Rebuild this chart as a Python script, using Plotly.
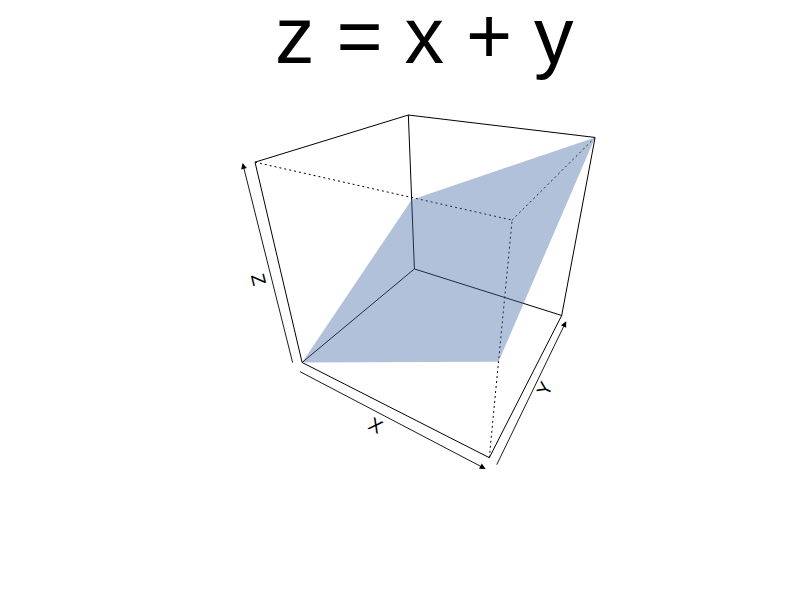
import numpy as np
import plotly.graph_objects as go

# ---- data ----
title_text = "z = x + y"
x_vals = [0.0, 1.0]
y_vals = [0.0, 1.0]
z_vals = [[0.0, 1.0],
          [1.0, 2.0]]          # z_vals[i][j] is z at (x_vals[i], y_vals[j])
axis_labels = ["X", "Y", "Z"]

# ---- view (persp-like camera) ----
THETA, PHI, DIST = 30.0, 30.0, 3.78
SCALE, CX, CY, PAGE_OFF = 107.0, 441.5, 255.4, 8
TICK_OFF, LABEL_OFF = 0.06, 0.135
FILL = "rgba(70,108,168,0.42)"
FONT = "Liberation Sans, Arial, Helvetica, sans-serif"

xlim = (min(x_vals), max(x_vals))
ylim = (min(y_vals), max(y_vals))
zflat = [v for row in z_vals for v in row]
zlim = (min(zflat), max(zflat))


def norm(v, lim):
    return 2.0 * (v - lim[0]) / (lim[1] - lim[0]) - 1.0


th, ph = np.radians(THETA), np.radians(PHI)


def proj_n(X, Y, Z):
    """normalized box coords ([-1,1]^3) -> 2D plane coords"""
    sx = X * np.cos(th) + Y * np.sin(th)
    t = X * np.sin(th) - Y * np.cos(th)
    sy = Z * np.cos(ph) - t * np.sin(ph)
    dz = Z * np.sin(ph) + t * np.cos(ph)
    w = 1.0 - dz / DIST
    return sx / w, sy / w, dz


def proj(x, y, z):
    return proj_n(norm(x, xlim), norm(y, ylim), norm(z, zlim))


fig = go.Figure()

# ---- box ----
corners = [(i, j, k) for i in (-1, 1) for j in (-1, 1) for k in (-1, 1)]
nearest = max(corners, key=lambda c: proj_n(*c)[2])
edges = []
for a in corners:
    for b in corners:
        if a < b and sum(p != q for p, q in zip(a, b)) == 1:
            edges.append((a, b))
for a, b in edges:
    u1, v1, _ = proj_n(*a)
    u2, v2, _ = proj_n(*b)
    dotted = nearest in (a, b)
    fig.add_trace(go.Scatter(
        x=[u1, u2], y=[v1, v2], mode="lines", hoverinfo="skip",
        line=dict(color="black", width=1, dash="2px,3px" if dotted else "solid")))

# ---- surface facets ----
for i in range(len(x_vals) - 1):
    for j in range(len(y_vals) - 1):
        quad = [(i, j), (i + 1, j), (i + 1, j + 1), (i, j + 1), (i, j)]
        us, vs = [], []
        for a, b in quad:
            u, v, _ = proj(x_vals[a], y_vals[b], z_vals[a][b])
            us.append(u)
            vs.append(v)
        fig.add_trace(go.Scatter(
            x=us, y=vs, mode="lines", fill="toself", fillcolor=FILL,
            line=dict(color="rgba(0,0,0,0)", width=0), hoverinfo="skip"))

# ---- axes (simple arrows + labels) ----
o = 1 + TICK_OFF
L = 1 + LABEL_OFF
axes_def = [
    ((-1, -o, -o), (1, -o, -o), (0, -L, -L)),   # X
    ((o, -1, -o), (o, 1, -o), (L, 0, -L)),      # Y
    ((-o, -o, -1), (-o, -o, 1), (-L, -L, 0)),   # Z
]
annotations = []
for (s, e, m), lab in zip(axes_def, axis_labels):
    u1, v1, _ = proj_n(*s)
    u2, v2, _ = proj_n(*e)
    um, vm, _ = proj_n(*m)
    annotations.append(dict(
        x=u2, y=v2, ax=u1, ay=v1, xref="x", yref="y", axref="x", ayref="y",
        text="", showarrow=True, arrowhead=2, arrowsize=1.3, arrowwidth=0.9,
        arrowcolor="black", standoff=0, startstandoff=0))
    ang = np.degrees(np.arctan2(v2 - v1, u2 - u1))
    if ang > 90:
        ang -= 180
    if ang < -90:
        ang += 180
    annotations.append(dict(
        x=um, y=vm, xref="x", yref="y", text=lab, showarrow=False,
        textangle=-ang, font=dict(family=FONT, size=19, color="black"),
        xanchor="center", yanchor="middle"))

annotations.append(dict(
    text=title_text, x=0.521, y=0.955, xref="paper", yref="paper",
    showarrow=False, xanchor="center", yanchor="middle",
    font=dict(family=FONT, size=79, color="black")))

W, H = 800, 600
fig.update_layout(
    width=W, height=H, margin=dict(l=0, r=0, t=0, b=0), showlegend=False,
    plot_bgcolor="white", paper_bgcolor="white", annotations=annotations)
fig.update_xaxes(range=[(PAGE_OFF - CX) / SCALE, (W + PAGE_OFF - CX) / SCALE],
                 visible=False, fixedrange=True)
fig.update_yaxes(range=[(CY - H - PAGE_OFF) / SCALE, (CY - PAGE_OFF) / SCALE],
                 visible=False, fixedrange=True)
fig.write_html("out.html")
